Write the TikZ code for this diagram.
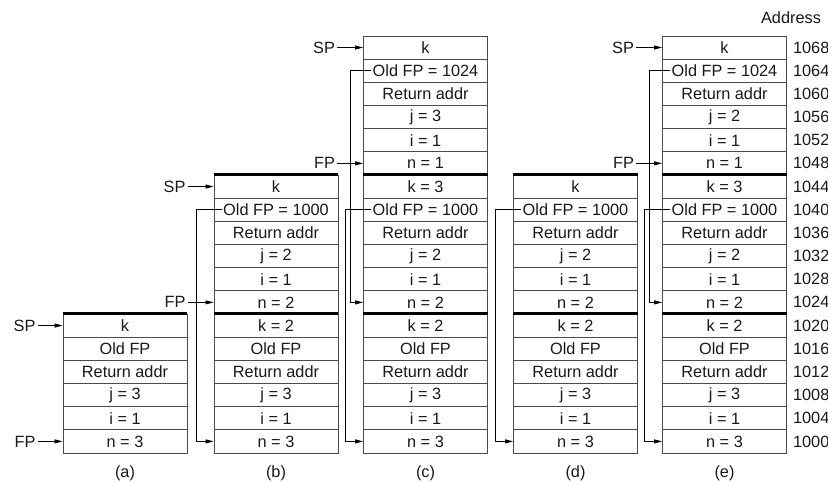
\documentclass[tikz,border=0pt]{standalone}
\usepackage{fontspec}
\setmainfont{Liberation Sans}
\usetikzlibrary{arrows.meta,calc}
\begin{document}
\begin{tikzpicture}[x=1bp,y=-1bp,
  cell/.style={draw=black!70, line width=0.8bp, minimum width=124bp, minimum height=23.17bp, inner sep=0pt},
  txt/.style={inner sep=1.5bp, font=\fontsize{16.3bp}{18bp}\selectfont, text=black!90},
  lbl/.style={inner sep=2bp, font=\fontsize{16.3bp}{18bp}\selectfont, text=black!90},
  ptr/.style={draw=black, line width=0.8bp, -{Triangle[length=8bp,width=4bp]}},
  sep/.style={draw=black, line width=2.4bp},
]
\useasboundingbox (0,0) rectangle (828,483);
% (a)
\foreach \t [count=\i from 0] in {n = 3, i = 1, j = 3, Return addr, Old FP, k}{
  \node[cell] (a\i) at (125,{441.4-23.17*\i}) {};
  \node[txt] (a\i t) at (a\i) {\t};
}
% (b)
\foreach \t [count=\i from 0] in {n = 3, i = 1, j = 3, Return addr, Old FP, k = 2, n = 2, i = 1, j = 2, Return addr, Old FP = 1000, k}{
  \node[cell] (b\i) at (276,{441.4-23.17*\i}) {};
  \node[txt] (b\i t) at (b\i) {\t};
}
% (c)
\foreach \t [count=\i from 0] in {n = 3, i = 1, j = 3, Return addr, Old FP, k = 2, n = 2, i = 1, j = 2, Return addr, Old FP = 1000, k = 3, n = 1, i = 1, j = 3, Return addr, Old FP = 1024, k}{
  \node[cell] (c\i) at (425.5,{441.4-23.17*\i}) {};
  \node[txt] (c\i t) at (c\i) {\t};
}
% (d)
\foreach \t [count=\i from 0] in {n = 3, i = 1, j = 3, Return addr, Old FP, k = 2, n = 2, i = 1, j = 2, Return addr, Old FP = 1000, k}{
  \node[cell] (d\i) at (575.5,{441.4-23.17*\i}) {};
  \node[txt] (d\i t) at (d\i) {\t};
}
% (e)
\foreach \t [count=\i from 0] in {n = 3, i = 1, j = 3, Return addr, Old FP, k = 2, n = 2, i = 1, j = 2, Return addr, Old FP = 1000, k = 3, n = 1, i = 1, j = 2, Return addr, Old FP = 1024, k}{
  \node[cell] (e\i) at (724.5,{441.4-23.17*\i}) {};
  \node[txt] (e\i t) at (e\i) {\t};
  \pgfmathtruncatemacro\ad{1000+4*\i}
  \node[lbl, anchor=west] (ad\i) at ([xshift=4bp]e\i.east) {\ad};
}
\node[lbl] (addr) at (791,18) {Address};
% frame separators
\draw[sep] (a5.north west) -- (a5.north east);
\foreach \s in {b,c,d,e}{
  \draw[sep] (\s5.north west) -- (\s5.north east);
  \draw[sep] (\s11.north west) -- (\s11.north east);
}
% SP / FP pointers
\node[lbl, anchor=east] (spa) at ([xshift=-25bp]a5.west) {SP};
\node[lbl, anchor=east] (fpa) at ([xshift=-25bp]a0.west) {FP};
\draw[ptr] (spa) -- (a5.west);
\draw[ptr] (fpa) -- (a0.west);
\node[lbl, anchor=east] (spb) at ([xshift=-26bp]b11.west) {SP};
\node[lbl, anchor=east] (fpb) at ([xshift=-26bp]b6.west) {FP};
\draw[ptr] (spb) -- (b11.west);
\draw[ptr] (fpb) -- (b6.west);
\node[lbl, anchor=east] (spc) at ([xshift=-26bp]c17.west) {SP};
\node[lbl, anchor=east] (fpc) at ([xshift=-26bp]c12.west) {FP};
\draw[ptr] (spc) -- (c17.west);
\draw[ptr] (fpc) -- (c12.west);
\node[lbl, anchor=east] (spe) at ([xshift=-26bp]e17.west) {SP};
\node[lbl, anchor=east] (fpe) at ([xshift=-26bp]e12.west) {FP};
\draw[ptr] (spe) -- (e17.west);
\draw[ptr] (fpe) -- (e12.west);
% Old FP links
\draw[ptr] (b10t.west) -| ([xshift=-17bp]b0.west) -- (b0.west);
\draw[ptr] (c10t.west) -| ([xshift=-18bp]c0.west) -- (c0.west);
\draw[ptr] (c16t.west) -| ([xshift=-13bp]c6.west) -- (c6.west);
\draw[ptr] (d10t.west) -| ([xshift=-18bp]d0.west) -- (d0.west);
\draw[ptr] (e10t.west) -| ([xshift=-18bp]e0.west) -- (e0.west);
\draw[ptr] (e16t.west) -| ([xshift=-13bp]e6.west) -- (e6.west);
% captions
\node[lbl] (capa) at (125,473) {(a)};
\node[lbl] (capb) at (276,473) {(b)};
\node[lbl] (capc) at (425.5,473) {(c)};
\node[lbl] (capd) at (575.5,473) {(d)};
\node[lbl] (cape) at (724.5,473) {(e)};
\end{tikzpicture}
\end{document}
